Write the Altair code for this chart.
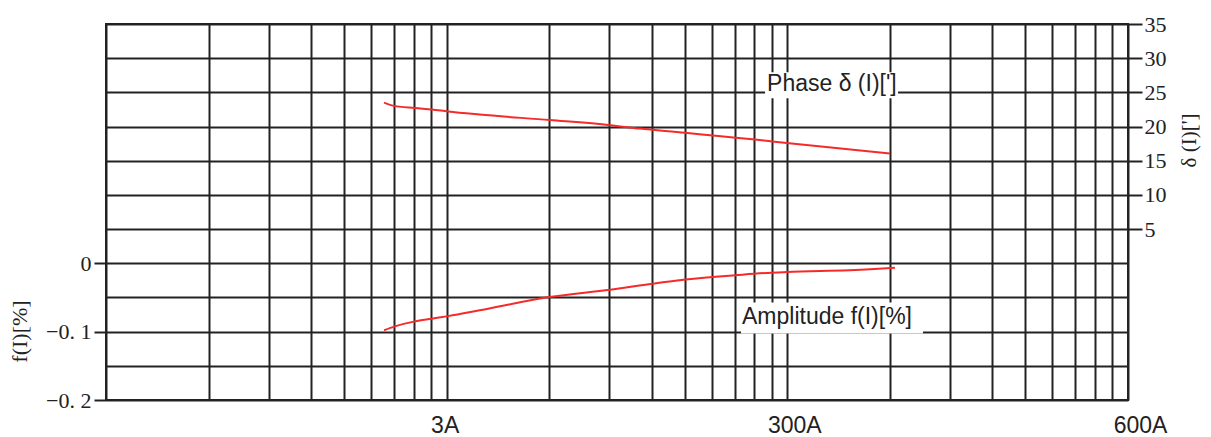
import altair as alt
import pandas as pd

# ---- data ----
phase_current = [6.55, 6.9, 8.07, 9.04, 10.1, 12.5, 20.1, 30.2, 36.9, 50.1, 62.7, 80.4, 99.6, 200]
phase_minutes = [23.5, 23.1, 22.7, 22.5, 22.2, 21.75, 20.95, 20.2, 19.7, 19.1, 18.6, 18.1, 17.6, 16.05]

amp_current = [6.55, 7.05, 8.07, 9.04, 10.1, 12.5, 20.0, 30.2, 40.3, 50.3, 70.2, 90.0, 99.6, 175, 207]
amp_percent = [-0.098, -0.0923, -0.085, -0.0811, -0.0773, -0.0688, -0.0494, -0.0386, -0.0298,
               -0.0239, -0.0176, -0.0137, -0.0128, -0.0089, -0.0064]

x_grid = [1, 2, 3, 4, 5, 6, 7, 8, 9, 10, 20, 30, 40, 50, 60, 70, 80, 90, 100,
          200, 300, 400, 500, 600, 700, 800, 900, 1000]
x_label_values = [10, 100, 1000]
x_label_texts = ["3A", "300A", "600A"]

f_grid = [-0.2, -0.15, -0.1, -0.05, 0, 0.05, 0.1, 0.15, 0.2, 0.25, 0.3, 0.35]
f_label_values = [0, -0.1, -0.2]
f_label_texts = ["0", "\u22120. 1", "\u22120. 2"]

d_ticks = [5, 10, 15, 20, 25, 30, 35]

phase_label = ["Phase \u03b4 (I)[']"]
phase_label_at = [(87.2, 26.2)]
amp_label = ["Amplitude f(I)[%]"]
amp_label_at = [(73.6, -0.0792)]

# ---- tables ----
phase_df = pd.DataFrame({"I": phase_current, "v": phase_minutes})
amp_df = pd.DataFrame({"I": amp_current, "v": amp_percent})
phase_lab_df = pd.DataFrame({"I": [p[0] for p in phase_label_at], "v": [p[1] for p in phase_label_at], "t": phase_label})
amp_lab_df = pd.DataFrame({"I": [p[0] for p in amp_label_at], "v": [p[1] for p in amp_label_at], "t": amp_label})

INK = "#222222"
RED = "#f52a2a"

x_expr = " : ".join(f"datum.value == {v} ? '{t}'" for v, t in zip(x_label_values, x_label_texts)) + " : ''"
f_expr = " : ".join(f"datum.value == {v} ? '{t}'" for v, t in zip(f_label_values, f_label_texts)) + " : ''"
f_test = " || ".join(f"datum.value == {v}" for v in f_label_values)

x_enc = alt.X(
    "I:Q",
    scale=alt.Scale(type="log", domain=[1, 1000], nice=False),
    axis=alt.Axis(
        values=x_grid, labelExpr=x_expr, grid=True, gridColor=INK, gridWidth=2, gridOpacity=1,
        ticks=False, tickSize=0, domain=False, title=None,
        labelFont="Liberation Sans", labelFontSize=23, labelColor=INK,
        labelPadding=14, labelFlush=False, labelOverlap=False, labelBaseline="top",
        labelOffset={"condition": [{"test": "datum.value == 1000", "value": 12},
                                   {"test": "datum.value == 100", "value": 7}],
                     "value": -2},
    ),
)
x2_enc = alt.X2("I")

y_amp = alt.Y(
    "v:Q",
    scale=alt.Scale(domain=[-0.2, 0.35], nice=False, zero=False),
    axis=alt.Axis(
        orient="left", values=f_grid, labelExpr=f_expr, grid=True, gridColor=INK, gridWidth=2,
        gridOpacity=1, domain=False, tickColor=INK, tickWidth=2, tickSize=12,
        tickOpacity={"condition": {"test": f_test, "value": 1}, "value": 0},
        labelFont="Liberation Serif", labelFontSize=22, labelColor=INK, labelPadding=3,
        labelOverlap=False, labelFlush=False,
        title="f(I)[%]", titleFont="Liberation Serif", titleFontSize=22, titleFontWeight="normal",
        titleColor=INK, titleAngle=270, titleX=-87, titleY=307, titleAlign="center",
        titleBaseline="middle",
    ),
)

y_phase = alt.Y(
    "v:Q",
    scale=alt.Scale(domain=[-20, 35], nice=False, zero=False),
    axis=alt.Axis(
        orient="right", values=d_ticks, grid=False, domain=False, tickColor=INK, tickWidth=2,
        tickSize=14, labelFont="Liberation Serif", labelFontSize=22, labelColor=INK,
        labelPadding=2, labelOverlap=False, labelFlush=False,
        title="\u03b4 (I)[']", titleFont="Liberation Serif", titleFontSize=21,
        titleFontWeight="normal", titleColor=INK, titleAngle=270, titleX=61, titleY=116,
        titleAlign="center", titleBaseline="middle",
    ),
)

amp_line = alt.Chart(amp_df).mark_line(color=RED, strokeWidth=2, interpolate="monotone").encode(x=x_enc, y=y_amp)
amp_box = alt.Chart(amp_lab_df).mark_rect(
    color="white", xOffset=-1, x2Offset=181, yOffset=-15, y2Offset=16,
).encode(x=x_enc, x2=x2_enc, y=y_amp, y2=alt.Y2("v"))
amp_text = alt.Chart(amp_lab_df).mark_text(
    align="left", baseline="middle", font="Liberation Sans", fontSize=23, color=INK,
).encode(x=x_enc, y=y_amp, text="t:N")

phase_line = alt.Chart(phase_df).mark_line(color=RED, strokeWidth=2, interpolate="monotone").encode(x=x_enc, y=y_phase)
phase_box = alt.Chart(phase_lab_df).mark_rect(
    color="white", xOffset=-2, x2Offset=131, yOffset=-12, y2Offset=14,
).encode(x=x_enc, x2=x2_enc, y=y_phase, y2=alt.Y2("v"))
phase_text = alt.Chart(phase_lab_df).mark_text(
    align="left", baseline="middle", font="Liberation Sans", fontSize=23, color=INK,
).encode(x=x_enc, y=y_phase, text="t:N")

amp_layer = alt.layer(amp_line, amp_box, amp_text)
phase_layer = alt.layer(phase_line, phase_box, phase_text)

chart = (
    alt.layer(amp_layer, phase_layer)
    .resolve_scale(y="independent")
    .properties(
        width=1022, height=376,
        autosize=alt.AutoSizeParams(type="none"),
        padding={"left": 98, "top": 16, "right": 74, "bottom": 37},
        background="white",
    )
    .configure_view(stroke=INK, strokeWidth=2)
)

chart.save("out.html", embed_options={"renderer": "svg", "actions": False})
